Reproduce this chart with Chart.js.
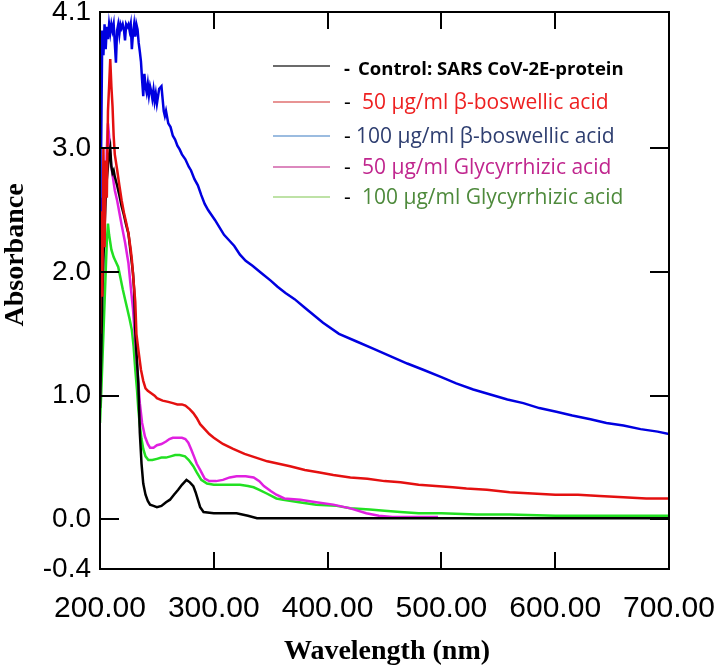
<!DOCTYPE html>
<html>
<head>
<meta charset="utf-8">
<script src="https://cdn.jsdelivr.net/npm/chart.js@4.4.1/dist/chart.umd.min.js"></script>
<style>
  html, body { margin: 0; padding: 0; background: #fff; }
  #wrap { width: 714px; height: 669px; }
</style>
</head>
<body>
<div id="wrap"><canvas id="uvChart" width="714" height="669"></canvas></div>
<script>
// tick labels
const wavelengthTicks = [200, 300, 400, 500, 600, 700];
const absorbanceTicks = [-0.4, 0.0, 1.0, 2.0, 3.0, 4.1];

// legend
const legendLabels = [
    "Control: SARS CoV-2E-protein",
    "50 \u00b5g/ml \u03b2-boswellic acid",
    "100 \u00b5g/ml \u03b2-boswellic acid",
    "50 \u00b5g/ml Glycyrrhizic acid",
    "100 \u00b5g/ml Glycyrrhizic acid"
];

// control (black)
const ctrlNm  = [200, 201, 202, 203, 204, 205, 206, 207, 208, 209, 210, 211, 212, 213, 215, 217, 219, 221, 223, 225, 227, 229, 230, 231, 232, 233.7, 235, 236.5, 238, 240, 242, 244, 247, 250, 254, 258, 261.5, 265, 268.7, 272, 276, 279, 282, 284, 286, 288, 291, 300, 308, 320, 330, 338, 345, 360, 400, 500, 600, 700];
const ctrlAbs = [0.90, 1.30, 1.80, 2.10, 2.35, 2.60, 2.75, 2.85, 2.95, 3.00, 2.85, 2.80, 2.82, 2.77, 2.70, 2.62, 2.53, 2.46, 2.38, 2.31, 2.15, 1.99, 1.85, 1.53, 1.35, 1.10, 0.70, 0.45, 0.29, 0.20, 0.15, 0.12, 0.11, 0.10, 0.11, 0.14, 0.16, 0.20, 0.24, 0.28, 0.32, 0.30, 0.27, 0.22, 0.16, 0.10, 0.06, 0.05, 0.05, 0.05, 0.03, 0.01, 0.01, 0.01, 0.01, 0.01, 0.01, 0.01];

// 50 ug/ml boswellic (red)
const bos50Nm  = [200, 201, 202, 203, 204, 205, 206, 207, 208, 209, 210, 211, 212, 213, 215, 217, 219, 221, 223, 225, 227, 228, 229, 231, 232, 234, 236, 238, 240, 242, 245, 248, 250, 255, 260, 264, 268, 272, 275, 279, 282, 285, 288, 292, 296, 300, 308, 317, 327, 337, 347, 357, 367, 380, 393, 405, 420, 435, 450, 464, 480, 495, 510, 522, 540, 560, 580, 600, 620, 639, 660, 680, 700];
const bos50Abs = [1.50, 2.60, 1.80, 3.00, 2.20, 2.90, 2.60, 3.30, 3.50, 3.72, 3.50, 3.34, 3.10, 2.95, 2.83, 2.70, 2.58, 2.48, 2.40, 2.31, 2.18, 2.10, 1.98, 1.76, 1.50, 1.35, 1.21, 1.12, 1.06, 1.04, 1.02, 1.00, 0.98, 0.96, 0.95, 0.94, 0.93, 0.93, 0.92, 0.89, 0.86, 0.82, 0.77, 0.73, 0.69, 0.66, 0.61, 0.57, 0.53, 0.50, 0.47, 0.45, 0.43, 0.40, 0.38, 0.36, 0.34, 0.33, 0.31, 0.30, 0.28, 0.27, 0.26, 0.25, 0.24, 0.22, 0.21, 0.20, 0.20, 0.19, 0.18, 0.17, 0.17];

// 100 ug/ml boswellic (blue)
const bos100Nm  = [200, 200.5, 201, 202, 203, 204, 205, 206, 207, 208, 209, 210, 211, 212, 213, 214, 215, 216, 217, 218, 219, 220, 221, 222, 223, 224, 225, 226, 227, 228, 229, 230, 231, 232, 233, 234, 235, 236, 237, 238, 239, 240, 241, 242, 243, 244, 245, 246, 247, 248, 249, 250, 252, 254, 256, 257, 258, 260, 262, 264, 266, 268, 270, 272, 275, 278, 280, 283, 286, 289, 292, 295, 298, 301, 305, 309, 313, 318, 323, 328, 334, 342, 350, 356, 363, 371, 380, 396, 410, 425, 440, 455, 470, 484, 500, 513, 528, 543, 558, 572, 586, 601, 615, 631, 645, 660, 675, 690, 700];
const bos100Abs = [2.50, 3.50, 3.00, 3.95, 3.75, 4.00, 3.80, 3.98, 3.88, 4.00, 3.93, 4.00, 3.95, 4.00, 3.85, 3.69, 3.95, 4.00, 3.92, 4.00, 3.97, 4.00, 3.96, 3.87, 4.00, 3.98, 4.00, 3.95, 4.00, 3.80, 3.93, 4.00, 3.90, 4.00, 3.96, 3.85, 3.78, 3.70, 3.55, 3.42, 3.60, 3.50, 3.45, 3.52, 3.43, 3.50, 3.46, 3.40, 3.47, 3.38, 3.44, 3.36, 3.48, 3.50, 3.30, 3.26, 3.30, 3.20, 3.17, 3.10, 3.07, 3.02, 2.99, 2.95, 2.91, 2.85, 2.82, 2.75, 2.70, 2.62, 2.55, 2.50, 2.46, 2.42, 2.36, 2.30, 2.26, 2.21, 2.14, 2.09, 2.05, 1.99, 1.93, 1.88, 1.83, 1.78, 1.71, 1.59, 1.50, 1.44, 1.38, 1.32, 1.26, 1.21, 1.15, 1.10, 1.05, 1.01, 0.97, 0.94, 0.90, 0.87, 0.84, 0.81, 0.78, 0.76, 0.73, 0.71, 0.69];

// 50 ug/ml glycyrrhizic (magenta)
const gly50Nm  = [200, 201, 202, 203, 204, 205, 206, 207, 208, 209, 210, 211.7, 213, 215, 217, 219, 222, 225, 227, 229, 230.5, 232, 233.5, 235, 237, 239.5, 242, 244, 247, 250, 254, 258, 261, 264, 268, 272, 275, 277.6, 280, 283, 285, 288, 292, 296, 302, 308, 314, 320, 328, 335, 340, 344, 350, 355, 362, 376, 390, 405, 420, 434, 445, 457, 470, 485, 497];
const gly50Abs = [1.00, 1.80, 2.50, 2.20, 2.80, 2.60, 3.00, 3.20, 3.10, 2.95, 2.85, 2.74, 2.66, 2.58, 2.48, 2.38, 2.24, 2.07, 1.88, 1.70, 1.50, 1.32, 1.13, 0.94, 0.78, 0.67, 0.61, 0.58, 0.58, 0.60, 0.61, 0.63, 0.65, 0.66, 0.66, 0.66, 0.65, 0.62, 0.57, 0.50, 0.45, 0.40, 0.33, 0.31, 0.31, 0.32, 0.34, 0.35, 0.35, 0.34, 0.31, 0.27, 0.23, 0.20, 0.17, 0.16, 0.14, 0.12, 0.09, 0.05, 0.03, 0.02, 0.02, 0.02, 0.02];

// 100 ug/ml glycyrrhizic (green)
const gly100Nm  = [200, 201, 202, 203, 204, 205, 206, 207, 208, 210, 212, 214, 216, 218, 220, 222, 224, 226, 228, 229.5, 231, 232.5, 233.7, 235, 236.5, 238, 240, 242.5, 246, 250, 254, 258, 262, 266, 270, 274.7, 278, 282, 285, 289, 294, 300, 310, 323, 330, 335, 340, 346.5, 355, 361, 375, 390, 408, 420, 437, 450, 464, 480, 500, 531, 560, 600, 650, 700];
const gly100Abs = [0.78, 1.00, 1.25, 1.50, 1.75, 2.00, 2.25, 2.39, 2.30, 2.18, 2.12, 2.08, 2.04, 1.95, 1.86, 1.78, 1.70, 1.62, 1.53, 1.40, 1.21, 1.05, 0.89, 0.76, 0.65, 0.57, 0.51, 0.48, 0.48, 0.49, 0.50, 0.50, 0.51, 0.52, 0.52, 0.51, 0.48, 0.43, 0.38, 0.32, 0.29, 0.28, 0.28, 0.28, 0.27, 0.26, 0.24, 0.21, 0.17, 0.16, 0.14, 0.12, 0.11, 0.09, 0.08, 0.07, 0.06, 0.05, 0.05, 0.04, 0.04, 0.03, 0.03, 0.03];

function pts(xs, ys) {
    return xs.map((x, i) => ({ x: x, y: ys[i] }));
}

// legend sample line colours / text colours
const legendLineColors = ['#3a3a3a', '#e07070', '#7aa6d6', '#d060a8', '#a8d888'];
const legendTextColors = ['#000000', '#ee2020', '#2e3e70', '#c0268e', '#4e8a3c'];

const overlay = {
    id: 'overlay',
    afterDraw(chart) {
        const ctx = chart.ctx;
        const a = chart.chartArea;
        const xs = chart.scales.x, ys = chart.scales.y;
        ctx.save();
        ctx.strokeStyle = '#000';
        ctx.lineWidth = 2;
        ctx.strokeRect(a.left, a.top, a.right - a.left, a.bottom - a.top);

        // inward ticks
        ctx.beginPath();
        wavelengthTicks.slice(1, -1).forEach(v => {
            const px = Math.round(xs.getPixelForValue(v));
            ctx.moveTo(px, a.bottom); ctx.lineTo(px, a.bottom - 17);
            ctx.moveTo(px, a.top); ctx.lineTo(px, a.top + 17);
        });
        absorbanceTicks.slice(1, -1).forEach(v => {
            const py = Math.round(ys.getPixelForValue(v));
            ctx.moveTo(a.left, py); ctx.lineTo(a.left + 19, py);
            ctx.moveTo(a.right, py); ctx.lineTo(a.right - 19, py);
        });
        ctx.stroke();

        // axis titles
        ctx.fillStyle = '#000';
        ctx.font = 'bold 28px "Liberation Serif"';
        ctx.textAlign = 'center';
        ctx.textBaseline = 'alphabetic';
        ctx.fillText('Wavelength (nm)', 387, 659);
        ctx.save();
        ctx.translate(23, 255);
        ctx.rotate(-Math.PI / 2);
        ctx.fillText('Absorbance', 0, 0);
        ctx.restore();

        // legend
        const lineY = [66, 102, 136, 167, 197];
        const textX = [358, 362, 356, 362, 362];
        ctx.textAlign = 'left';
        ctx.textBaseline = 'middle';
        legendLabels.forEach((lab, i) => {
            ctx.strokeStyle = legendLineColors[i];
            ctx.lineWidth = 1.5;
            ctx.beginPath();
            ctx.moveTo(273, lineY[i]); ctx.lineTo(330, lineY[i]);
            ctx.stroke();
            const ty = lineY[i] + (i === 0 ? 4 : 1);
            ctx.font = i === 0 ? 'bold 18.5px "Open Sans"' : '21px "Open Sans"';
            ctx.fillStyle = '#000';
            ctx.fillText('-', 344, ty);
            ctx.fillStyle = legendTextColors[i];
            ctx.fillText(lab, textX[i], ty);
        });
        ctx.restore();
    }
};

const seriesStyle = { borderWidth: 2.5, pointRadius: 0, tension: 0, fill: false };

new Chart(document.getElementById('uvChart'), {
    type: 'line',
    data: {
        datasets: [
            Object.assign({ label: legendLabels[2], data: pts(bos100Nm, bos100Abs), borderColor: '#0000e0', order: 0 }, seriesStyle),
            Object.assign({ label: legendLabels[1], data: pts(bos50Nm, bos50Abs), borderColor: '#e41010', order: 1 }, seriesStyle),
            Object.assign({ label: legendLabels[0], data: pts(ctrlNm, ctrlAbs), borderColor: '#000000', order: 2 }, seriesStyle),
            Object.assign({ label: legendLabels[3], data: pts(gly50Nm, gly50Abs), borderColor: '#e020e0', order: 3 }, seriesStyle),
            Object.assign({ label: legendLabels[4], data: pts(gly100Nm, gly100Abs), borderColor: '#22e022', order: 4 }, seriesStyle)
        ]
    },
    options: {
        responsive: false,
        animation: false,
        devicePixelRatio: 1,
        layout: { padding: { top: 12, right: 45, left: 0, bottom: 0 } },
        plugins: { legend: { display: false }, tooltip: { enabled: false } },
        scales: {
            x: {
                type: 'linear',
                min: 200, max: 700,
                grid: { display: false, drawTicks: false },
                border: { display: false },
                afterBuildTicks: s => { s.ticks = wavelengthTicks.map(v => ({ value: v })); },
                afterFit: s => { s.height = 100; s.paddingLeft = 0; s.paddingRight = 0; },
                ticks: {
                    autoSkip: false, maxRotation: 0,
                    padding: 22,
                    color: '#000',
                    font: { family: '"Liberation Sans"', size: 30 },
                    callback: v => Number(v).toFixed(2)
                }
            },
            y: {
                min: -0.4, max: 4.1,
                grid: { display: false, drawTicks: false },
                border: { display: false },
                afterBuildTicks: s => { s.ticks = absorbanceTicks.map(v => ({ value: v })); },
                afterFit: s => { s.width = 100; s.paddingTop = 0; s.paddingBottom = 0; },
                ticks: {
                    autoSkip: false,
                    padding: 9,
                    color: '#000',
                    font: { family: '"Liberation Sans"', size: 28 },
                    callback: v => Number(v).toFixed(1)
                }
            }
        }
    },
    plugins: [overlay]
});
</script>
</body>
</html>
